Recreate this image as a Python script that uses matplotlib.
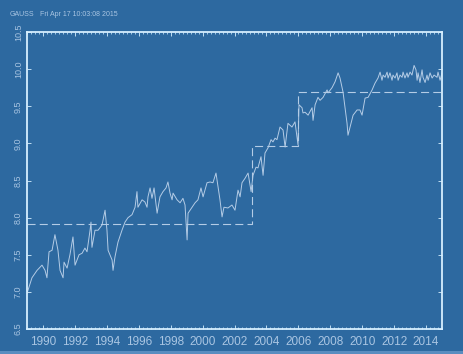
import matplotlib
matplotlib.use("Agg")
import matplotlib.pyplot as plt
from matplotlib.ticker import MultipleLocator, FixedLocator
from matplotlib.patches import Rectangle

# Series: time (decimal years) and log level
t = [1989.00, 1989.31, 1989.63, 1989.94, 1990.13, 1990.25, 1990.38, 1990.57, 1990.75, 1990.94,
     1991.07, 1991.26, 1991.32, 1991.51, 1991.69, 1991.88, 1992.01, 1992.26, 1992.45, 1992.63,
     1992.76, 1992.95, 1993.01, 1993.07, 1993.26, 1993.45, 1993.70, 1993.89, 1994.01, 1994.08,
     1994.33, 1994.39, 1994.51, 1994.70, 1994.95, 1995.14, 1995.33, 1995.58, 1995.77, 1995.89,
     1995.95, 1996.21, 1996.39, 1996.52, 1996.58, 1996.71, 1996.83, 1996.96, 1997.15, 1997.33,
     1997.52, 1997.71, 1997.83, 1997.96, 1998.09, 1998.15, 1998.40, 1998.59, 1998.77, 1998.90,
     1999.03, 1999.09, 1999.34, 1999.53, 1999.71, 1999.90, 2000.03, 2000.28, 2000.47, 2000.65,
     2000.84, 2000.97, 2001.09, 2001.22, 2001.34, 2001.59, 2001.84, 2002.03, 2002.22, 2002.35,
     2002.47, 2002.66, 2002.85, 2003.04, 2003.16, 2003.35, 2003.47, 2003.66, 2003.79, 2003.91,
     2004.10, 2004.29, 2004.41, 2004.54, 2004.66, 2004.85, 2005.04, 2005.17, 2005.35, 2005.60,
     2005.79, 2005.98, 2006.04, 2006.23, 2006.29, 2006.42, 2006.61, 2006.86, 2006.92, 2007.05,
     2007.23, 2007.36, 2007.55, 2007.80, 2007.86, 2008.11, 2008.30, 2008.49, 2008.61, 2008.80,
     2009.05, 2009.11, 2009.24, 2009.43, 2009.68, 2009.86, 2009.99, 2010.18, 2010.37, 2010.62,
     2010.80, 2010.99, 2011.12, 2011.24, 2011.31, 2011.43, 2011.56, 2011.62, 2011.74, 2011.87,
     2011.93, 2012.06, 2012.18, 2012.25, 2012.37, 2012.50, 2012.56, 2012.68, 2012.81, 2012.87,
     2013.00, 2013.12, 2013.25, 2013.37, 2013.44, 2013.50, 2013.62, 2013.75, 2013.81, 2013.94,
     2014.06, 2014.13, 2014.25, 2014.38, 2014.50, 2014.69, 2014.75, 2014.88, 2015.00]
y = [6.98, 7.19, 7.29, 7.36, 7.29, 7.19, 7.54, 7.56, 7.77, 7.56,
     7.29, 7.19, 7.40, 7.32, 7.50, 7.74, 7.36, 7.50, 7.52, 7.59,
     7.54, 7.83, 7.94, 7.60, 7.83, 7.83, 7.90, 8.10, 7.83, 7.56,
     7.43, 7.29, 7.47, 7.67, 7.83, 7.94, 8.00, 8.04, 8.14, 8.35,
     8.14, 8.24, 8.21, 8.14, 8.28, 8.40, 8.26, 8.40, 8.06, 8.28,
     8.35, 8.40, 8.48, 8.33, 8.24, 8.33, 8.24, 8.20, 8.26, 8.17,
     7.70, 8.06, 8.14, 8.20, 8.24, 8.40, 8.28, 8.47, 8.48, 8.47,
     8.60, 8.41, 8.24, 8.01, 8.14, 8.13, 8.17, 8.10, 8.37, 8.28,
     8.47, 8.53, 8.60, 8.35, 8.57, 8.68, 8.67, 8.82, 8.57, 8.87,
     8.94, 9.05, 9.02, 9.07, 9.05, 9.22, 9.18, 8.95, 9.27, 9.22,
     9.29, 8.98, 9.52, 9.48, 9.41, 9.42, 9.38, 9.48, 9.31, 9.52,
     9.62, 9.58, 9.62, 9.72, 9.68, 9.75, 9.83, 9.95, 9.88, 9.69,
     9.27, 9.11, 9.22, 9.38, 9.45, 9.45, 9.38, 9.61, 9.62, 9.72,
     9.81, 9.88, 9.96, 9.85, 9.92, 9.89, 9.96, 9.88, 9.95, 9.85,
     9.92, 9.88, 9.95, 9.85, 9.92, 9.89, 9.96, 9.88, 9.95, 9.89,
     9.96, 9.92, 10.05, 9.99, 9.85, 9.95, 9.82, 9.99, 9.89, 9.82,
     9.92, 9.85, 9.95, 9.88, 9.92, 9.89, 9.96, 9.85, 9.95]

# Regime means (structural breaks)
break_t = [1989.0, 2003.1, 2006.0, 2015.0]
regime_mean = [7.92, 8.97, 9.69]

x_ticks = list(range(1990, 2015, 2))
y_ticks = [6.5, 7.0, 7.5, 8.0, 8.5, 9.0, 9.5, 10.0, 10.5]

bg = "#2d69a0"
frame_c = "#d6efff"
line_c = "#b4cce6"
text_c = "#a9c5e2"

plt.rcParams["font.family"] = ["Liberation Sans", "DejaVu Sans"]
plt.rcParams["lines.scale_dashes"] = False

fig = plt.figure(figsize=(4.64, 3.54), dpi=100, facecolor=bg)
ax = fig.add_axes([0.0582, 0.0706, 0.8944, 0.839])
ax.set_facecolor(bg)

ax.plot(t, y, color=line_c, lw=0.7)

# step line of regime means
sx = []
sy = []
for i, m in enumerate(regime_mean):
    sx += [break_t[i], break_t[i + 1]]
    sy += [m, m]
ax.plot(sx, sy, color=line_c, lw=0.8, dashes=(5.8, 3.0))

ax.set_xlim(1989.0, 2015.0)
ax.set_ylim(6.5, 10.5)

ax.xaxis.set_major_locator(FixedLocator(x_ticks))
ax.xaxis.set_minor_locator(MultipleLocator(0.25))
ax.yaxis.set_major_locator(FixedLocator(y_ticks))
ax.set_xticklabels([str(v) for v in x_ticks])
ax.set_yticklabels([f"{v:.1f}" for v in y_ticks], rotation=90, va="center")

ax.tick_params(axis="x", which="major", direction="in", length=3, width=0.6,
               color=frame_c, top=True, bottom=True, labelsize=8.5,
               labelcolor=text_c, pad=5)
ax.tick_params(axis="x", which="minor", direction="in", length=1.6, width=0.5,
               color=frame_c, top=True, bottom=True)
ax.tick_params(axis="y", which="major", direction="in", length=3, width=0.6,
               color=frame_c, left=True, right=True, labelsize=6.5,
               labelcolor=text_c, pad=3)

for s in ax.spines.values():
    s.set_color(frame_c)
    s.set_linewidth(1.3)

fig.text(10 / 464, 1 - 15 / 354, "GAUSS", color=text_c, fontsize=5, va="center")
fig.text(40 / 464, 1 - 15 / 354, "Fri Apr 17 10:03:08 2015", color=text_c,
         fontsize=5, va="center")

fig.patches.append(Rectangle((0, 0), 1, 3 / 354, transform=fig.transFigure,
                             facecolor="#5a8dc0", edgecolor="none"))

fig.savefig("out.png", dpi=100, facecolor=bg)
